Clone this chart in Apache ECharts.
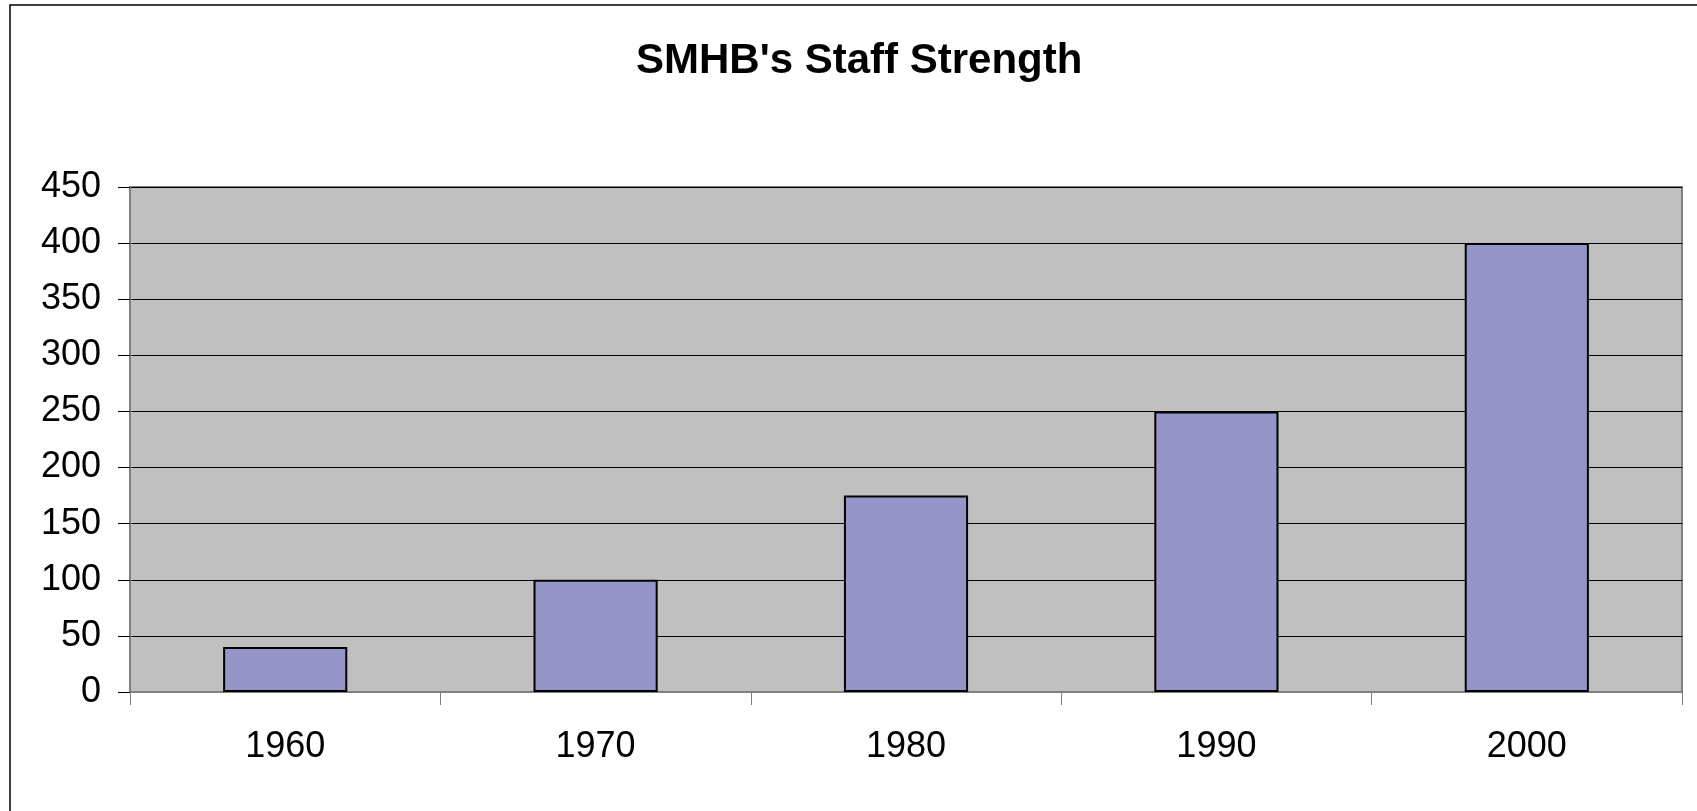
<!DOCTYPE html>
<html>
<head>
<meta charset="utf-8">
<script src="https://cdn.jsdelivr.net/npm/echarts@6/dist/echarts.min.js"></script>
<style>
html,body{margin:0;padding:0;background:#fff;}
#chart{width:1697px;height:811px;}
</style>
</head>
<body>
<div id="chart"></div>
<script>
const titleText = "SMHB's Staff Strength";
const categories = ["1960", "1970", "1980", "1990", "2000"];
const staff = [40, 100, 175, 250, 400];
const yMin = 0, yMax = 450, yStep = 50;

const chart = echarts.init(document.getElementById('chart'), null, {renderer: 'canvas'});
const font = "'Liberation Sans', Arial, sans-serif";
chart.setOption({
  animation: false,
  backgroundColor: '#ffffff',
  title: {
    text: titleText,
    left: 636,
    top: 40,
    padding: 0,
    textStyle: {fontFamily: font, fontSize: 42, fontWeight: 'bold', color: '#000'}
  },
  graphic: [{
    type: 'rect',
    shape: {x: 10, y: 5, width: 1800, height: 900},
    style: {fill: 'none', stroke: '#000', lineWidth: 1.5},
    silent: true,
    z: -1
  }],
  grid: {
    left: 130, right: 15, top: 187, bottom: 119,
    show: true, backgroundColor: '#C0C0C0', borderColor: '#808080', borderWidth: 2
  },
  xAxis: {
    type: 'category',
    data: categories,
    boundaryGap: true,
    axisLine: {show: true, lineStyle: {color: '#808080', width: 2}},
    axisTick: {show: true, length: 13, alignWithLabel: false, lineStyle: {color: '#808080', width: 1}},
    axisLabel: {margin: 37, fontFamily: font, fontSize: 36, color: '#000'},
    splitLine: {show: false}
  },
  yAxis: {
    type: 'value',
    min: yMin, max: yMax, interval: yStep,
    axisLine: {show: true, lineStyle: {color: '#808080', width: 2}},
    axisTick: {show: true, length: 12, lineStyle: {color: '#000', width: 1}},
    axisLabel: {margin: 29, fontFamily: font, fontSize: 36, color: '#000'},
    splitLine: {show: true, lineStyle: {color: '#000', width: 1}}
  },
  series: [{
    type: 'bar',
    data: staff,
    barWidth: '40%',
    itemStyle: {color: '#9595C8', borderColor: '#000', borderWidth: 2}
  }]
});
</script>
</body>
</html>
